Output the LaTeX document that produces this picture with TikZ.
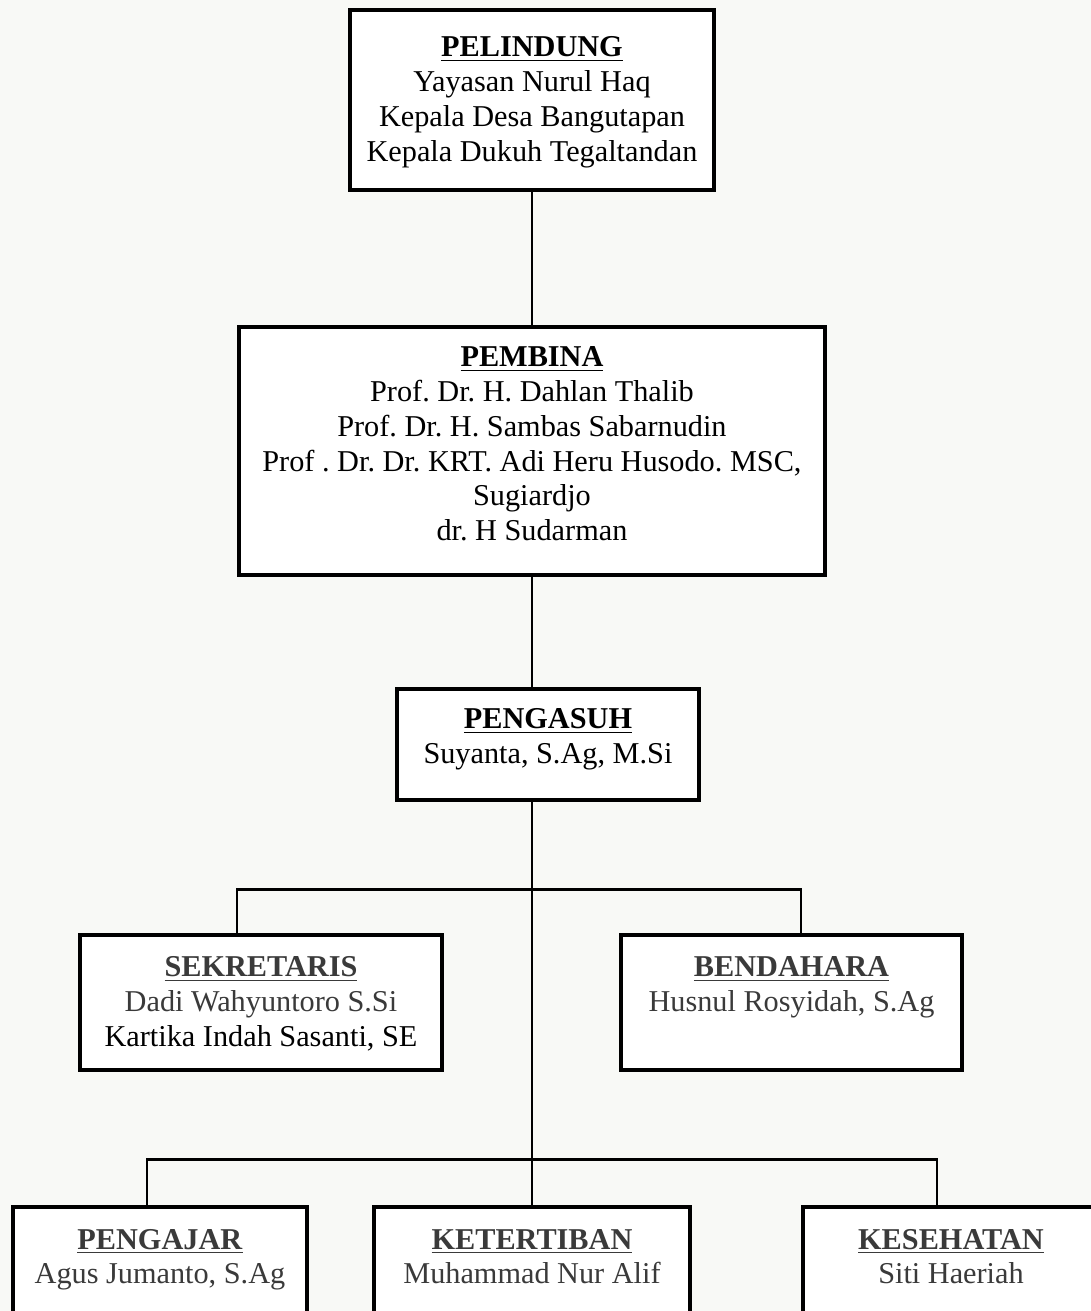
\documentclass[tikz,border=0pt]{standalone}
\usepackage{fontspec}
\setmainfont{Liberation Serif}
\usetikzlibrary{positioning}
\frenchspacing

\newlength\pxu
\setlength\pxu{0.403pt}
\definecolor{bgtint}{RGB}{248,249,246}
\definecolor{inkgray}{RGB}{58,58,58}
% heading line: strut sets the baseline below the box top
\newcommand{\orghead}[2][42]{\rule{0pt}{#1\pxu}\underline{\textbf{#2}}}
% fixed-size box body, text starting at the top
\newcommand{\orgtext}[3]{\parbox[t][#2\pxu][t]{#1\pxu}{\centering #3}}

\begin{document}
\begin{tikzpicture}[
    x=0.403pt, y=-0.403pt,
    every node/.style={font=\fontsize{12.2}{14}\selectfont},
    orgbox/.style={draw, line width=1.6pt, fill=white, inner sep=0pt, anchor=north west},
    link/.style={line width=1.2pt, line join=miter},
]

% === Page ===
\useasboundingbox (0,0) rectangle (1091,1311);
\clip (0,0) rectangle (1091,1311);
\fill[bgtint] (0,0) rectangle (1091,1311);

% === Top levels ===
\node[orgbox] (pelindung) at (348,8) {\orgtext{364}{180}{%
    \orghead[47]{PELINDUNG}\\
    Yayasan Nurul Haq\\
    Kepala Desa Bangutapan\\
    Kepala Dukuh Tegaltandan}};

\node[orgbox] (pembina) at (237,325) {\orgtext{586}{248}{%
    \orghead[40]{PEMBINA}\\
    Prof. Dr. H. Dahlan Thalib\\
    Prof. Dr. H. Sambas Sabarnudin\\
    Prof . Dr. Dr. KRT. Adi Heru Husodo. MSC,\\
    Sugiardjo\\
    dr. H Sudarman}};

\node[orgbox] (pengasuh) at (395,687) {\orgtext{302}{111}{%
    \orghead[40]{PENGASUH}\\
    Suyanta, S.Ag, M.Si}};

% === Staff ===
\node[orgbox] (sekretaris) at (78,933) {\orgtext{362}{135}{%
    \color{inkgray}\orghead{SEKRETARIS}\\
    Dadi Wahyuntoro S.Si\\
    \color{black}Kartika Indah Sasanti, SE}};

\node[orgbox] (bendahara) at (619,933) {\orgtext{341}{135}{%
    \color{inkgray}\orghead{BENDAHARA}\\
    Husnul Rosyidah, S.Ag}};

% === Divisions (cut by the page edge) ===
\node[orgbox] (pengajar) at (11,1205) {\orgtext{294}{150}{%
    \color{inkgray}\orghead{PENGAJAR}\\
    Agus Jumanto, S.Ag}};

\node[orgbox] (ketertiban) at (372,1205) {\orgtext{316}{150}{%
    \color{inkgray}\orghead{KETERTIBAN}\\
    Muhammad Nur Alif}};

\node[orgbox] (kesehatan) at (801,1205) {\orgtext{296}{150}{%
    \color{inkgray}\orghead{KESEHATAN}\\
    Siti Haeriah}};

% === Connectors ===
\coordinate (sekdrop) at (237,889);
\coordinate (bendrop) at (801,889);
\coordinate (ajardrop) at (147,1159);
\coordinate (sehatdrop) at (937,1159);

\draw[link] (pelindung.south) -- (pembina.north);
\draw[link] (pembina.south) -- (pembina.south |- pengasuh.north);
\draw[link] (pengasuh.south -| pembina.south) -- (ketertiban.north);
\draw[link] (sekdrop |- sekretaris.north) -- (sekdrop) -- (bendrop) -- (bendrop |- bendahara.north);
\draw[link] (ajardrop |- pengajar.north) -- (ajardrop) -- (sehatdrop) -- (sehatdrop |- kesehatan.north);

\end{tikzpicture}
\end{document}
